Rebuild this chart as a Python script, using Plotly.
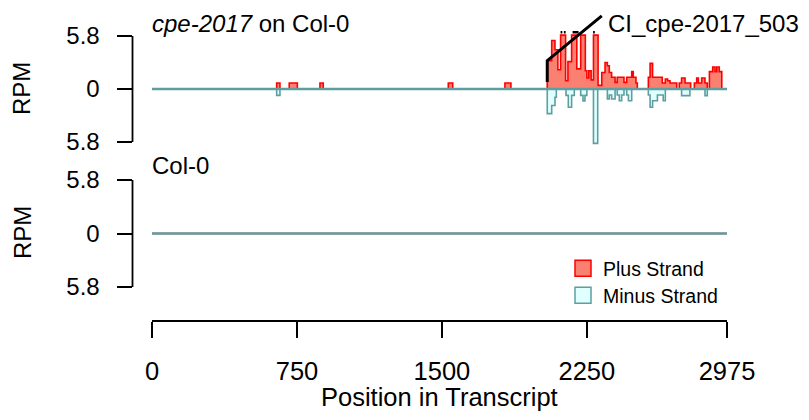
import plotly.graph_objects as go

# ---------------- data ----------------
plus_pos = [0, 645, 662, 710, 752, 869, 886, 1533, 1556, 1826, 1857,
            2045, 2068, 2085, 2100, 2114, 2140, 2152, 2171, 2198, 2218,
            2242, 2250, 2260, 2272, 2284, 2308, 2327, 2344, 2356, 2366,
            2378, 2396, 2407, 2442, 2456, 2482, 2490, 2504, 2511, 2568,
            2577, 2590, 2640, 2656, 2668, 2680, 2715, 2728, 2740, 2758,
            2787, 2806, 2818, 2827, 2844, 2861, 2873, 2884, 2901, 2913,
            2922, 2935, 2948, 2975]
plus_rpm = [0, 0.66, 0, 0.66, 0, 0.66, 0, 0.66, 0, 0.66, 0,
            3.1, 5.3, 4.3, 2.1, 5.9, 0.9, 3.0, 5.9, 2.2, 5.9,
            2.0, 1.2, 2.0, 1.0, 5.9, 0.4, 1.8, 2.9, 2.55, 1.8,
            1.28, 0.73, 1.28, 0.73, 1.28, 1.9, 1.28, 0.66, 0, 1.28,
            2.8, 1.28, 0.66, 1.1, 0.9, 0.66, 0, 0.66, 1.2, 0.66,
            0, 0.66, 1.2, 0.66, 1.2, 0.66, 0, 1.9, 2.4, 1.9,
            2.4, 1.9, 0, 0]

minus_pos = [0, 645, 662, 2045, 2068, 2085, 2092, 2142, 2154, 2171, 2185,
             2218, 2230, 2240, 2250, 2284, 2306, 2356, 2366, 2378, 2396,
             2407, 2418, 2430, 2442, 2456, 2465, 2482, 2568, 2577, 2590,
             2615, 2645, 2656, 2740, 2783, 2861, 2873, 2975]
minus_rpm = [0, -0.7, 0, -2.7, -1.8, -0.9, 0, -0.7, -2.0, -0.7, 0,
             -0.7, -1.3, -0.7, 0, -5.95, 0, -1.1, -0.66, -1.1, 0,
             -0.66, -1.28, -0.66, 0, -0.66, -1.28, 0, -0.66, -2.0, -1.28,
             -0.66, -1.28, 0, -0.73, 0, -0.73, 0, 0]

col0_pos = [0, 2975]
col0_plus = [0, 0]
col0_minus = [0, 0]

# marks above off-scale bins
offscale_start = [2114, 2131, 2176, 2282]
offscale_end = [2123, 2140, 2207, 2291]
offscale_level = 6.2

x_ticks = [0, 750, 1500, 2250, 2975]
y_ticks = [-5.8, 0, 5.8]
y_ticktext = ["5.8", "0", "5.8"]

cluster_label = "CI_cpe-2017_503"
cluster_path_x = [2045, 2045, 2327]
cluster_path_y = [0.77, 3.1, 8.0]

# ---------------- layout helpers (screen-pixel geometry) ----------------
OFF = 8                      # page body margin
W, H = 809 - 2 * OFF, 420 - 2 * OFF
def px(p):
    return (p - OFF) / W
def py(p):
    return 1 - (p - OFF) / H

x0_px, x1_px = 152.0, 727.0
k = (x1_px - x0_px) / 2975.0
left_px, right_px = 132.5, 747.0
x_range = [-(x0_px - left_px) / k, 2975 + (right_px - x1_px) / k]

top_zero, top_scale = 89.0, 53.0 / 5.8
top_dom_px = (8, 150)
bot_zero, bot_scale = 233.5, 53.5 / 5.8
bot_dom_px = (152, 300)

y1_range = [(top_zero - top_dom_px[1]) / top_scale, (top_zero - top_dom_px[0]) / top_scale]
y2_range = [(bot_zero - bot_dom_px[1]) / bot_scale, (bot_zero - bot_dom_px[0]) / bot_scale]

SALMON, RED = "#FA8072", "#FF0000"
CYAN, TEAL = "#E0FFFF", "#5F9EA0"
FONT = "Liberation Sans, Arial, sans-serif"
FS = 24
FSX = 25.5

fig = go.Figure()

# top panel
fig.add_trace(go.Scatter(x=plus_pos, y=plus_rpm, mode="lines", line_shape="hv",
                         fill="tozeroy", fillcolor=SALMON, line=dict(color=RED, width=1.6),
                         showlegend=False, xaxis="x", yaxis="y", hoverinfo="skip"))
fig.add_trace(go.Scatter(x=minus_pos, y=minus_rpm, mode="lines", line_shape="hv",
                         fill="tozeroy", fillcolor=CYAN, line=dict(color=TEAL, width=1.6),
                         showlegend=False, xaxis="x", yaxis="y", hoverinfo="skip"))
fig.add_trace(go.Scatter(x=[0, 2975], y=[0, 0], mode="lines",
                         line=dict(color=TEAL, width=2.5), showlegend=False,
                         xaxis="x", yaxis="y", hoverinfo="skip"))

# off-scale marks
ox, oy = [], []
for s, e in zip(offscale_start, offscale_end):
    ox += [s, e, None]
    oy += [offscale_level, offscale_level, None]
fig.add_trace(go.Scatter(x=ox, y=oy, mode="lines", line=dict(color="black", width=2.5),
                         showlegend=False, xaxis="x", yaxis="y", hoverinfo="skip"))

# cluster pointer
fig.add_trace(go.Scatter(x=cluster_path_x, y=cluster_path_y, mode="lines",
                         line=dict(color="black", width=3), showlegend=False,
                         xaxis="x", yaxis="y", hoverinfo="skip"))

# bottom panel
fig.add_trace(go.Scatter(x=col0_pos, y=col0_plus, mode="lines", line_shape="hv",
                         fill="tozeroy", fillcolor=SALMON, line=dict(color=RED, width=1.6),
                         showlegend=False, xaxis="x", yaxis="y2", hoverinfo="skip"))
fig.add_trace(go.Scatter(x=col0_pos, y=col0_minus, mode="lines", line_shape="hv",
                         fill="tozeroy", fillcolor=CYAN, line=dict(color=TEAL, width=2.5),
                         showlegend=False, xaxis="x", yaxis="y2", hoverinfo="skip"))

# legend entries
fig.add_trace(go.Scatter(x=[None], y=[None], mode="markers", name="Plus Strand",
                         marker=dict(symbol="square", size=16, color=SALMON,
                                     line=dict(color=RED, width=1.5)),
                         xaxis="x", yaxis="y", legend="legend"))
fig.add_trace(go.Scatter(x=[None], y=[None], mode="markers", name="Minus Strand",
                         marker=dict(symbol="square", size=16, color=CYAN,
                                     line=dict(color=TEAL, width=1.5)),
                         xaxis="x", yaxis="y", legend="legend2"))

axis_common = dict(showgrid=False, zeroline=False, showline=False, ticks="outside",
                   tickcolor="black", tickwidth=1.8, automargin=False)

leg_common = dict(xanchor="left", yanchor="middle", bgcolor="rgba(0,0,0,0)",
                  font=dict(size=19.5, color="black", family=FONT), itemwidth=30)

fig.update_layout(
    width=W, height=H, margin=dict(l=0, r=0, t=0, b=0, pad=0, autoexpand=False),
    plot_bgcolor="white", paper_bgcolor="white",
    font=dict(family=FONT, size=FS, color="black"),
    xaxis=dict(domain=[px(left_px), px(right_px)], range=x_range, anchor="free",
               position=py(321), tickvals=x_ticks, ticktext=[str(v) for v in x_ticks],
               ticklen=16, ticklabelstandoff=11,
               tickfont=dict(size=FSX, color="black", family=FONT), **axis_common),
    yaxis=dict(domain=[py(top_dom_px[1]), py(top_dom_px[0])], range=y1_range, anchor="x",
               tickvals=y_ticks, ticktext=y_ticktext, ticklen=15, ticklabelstandoff=12,
               tickfont=dict(size=FS, color="black", family=FONT), **axis_common),
    yaxis2=dict(domain=[py(bot_dom_px[1]), py(bot_dom_px[0])], range=y2_range, anchor="x",
                tickvals=y_ticks, ticktext=y_ticktext, ticklen=15, ticklabelstandoff=12,
                tickfont=dict(size=FS, color="black", family=FONT), **axis_common),
    legend=dict(x=px(563), y=py(268.5), **leg_common),
    legend2=dict(x=px(563), y=py(295.5), **leg_common),
    shapes=[
        dict(type="line", xref="paper", yref="y", x0=px(left_px), x1=px(left_px),
             y0=-5.8, y1=5.8, line=dict(color="black", width=1.8)),
        dict(type="line", xref="paper", yref="y2", x0=px(left_px), x1=px(left_px),
             y0=-5.8, y1=5.8, line=dict(color="black", width=1.8)),
        dict(type="line", xref="x", yref="paper", x0=0, x1=2975, y0=py(321), y1=py(321),
             line=dict(color="black", width=1.8)),
    ],
    annotations=[
        dict(text="<i>cpe-2017</i> on Col-0", xref="x", yref="paper", x=0, y=py(23),
             xanchor="left", yanchor="middle", showarrow=False, xshift=-2,
             font=dict(size=FS, color="black", family=FONT)),
        dict(text="Col-0", xref="x", yref="paper", x=0, y=py(165),
             xanchor="left", yanchor="middle", showarrow=False, xshift=-2,
             font=dict(size=FS, color="black", family=FONT)),
        dict(text=cluster_label, xref="x", yref="paper", x=cluster_path_x[-1], y=py(23),
             xanchor="left", yanchor="middle", showarrow=False, xshift=4,
             font=dict(size=FS, color="black", family=FONT)),
        dict(text="RPM", xref="paper", yref="paper", x=px(22), y=py(89), textangle=-90,
             xanchor="center", yanchor="middle", showarrow=False,
             font=dict(size=FS, color="black", family=FONT)),
        dict(text="RPM", xref="paper", yref="paper", x=px(22), y=py(233), textangle=-90,
             xanchor="center", yanchor="middle", showarrow=False,
             font=dict(size=FS, color="black", family=FONT)),
        dict(text="Position in Transcript", xref="x", yref="paper", x=1487.5, y=py(397),
             xanchor="center", yanchor="middle", showarrow=False,
             font=dict(size=FSX, color="black", family=FONT)),
    ],
)

fig.write_html("out.html")
